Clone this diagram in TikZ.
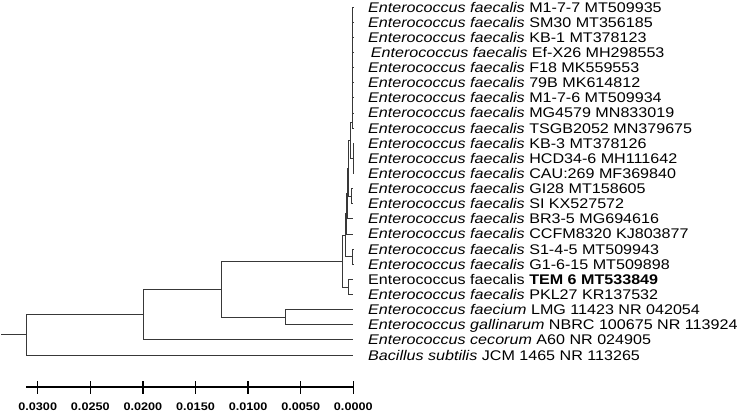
\documentclass[tikz,border=0pt]{standalone}
\usepackage{fontspec}
\setmainfont{Liberation Sans}
\tikzset{
  br/.style={draw=black!78, line width=0.8bp},
  lab/.style={anchor=base west, inner sep=0pt, font=\fontsize{14bp}{15bp}\selectfont},
  axl/.style={anchor=base, inner sep=0pt, font=\fontsize{11bp}{12bp}\selectfont\bfseries},
  axline/.style={draw=black, line width=1.7bp},
  tick/.style={draw=black, line width=1.3bp},
}
\newcommand\wide[1]{\scalebox{1.15}[1]{#1}}
\begin{document}
\begin{tikzpicture}[x=1bp,y=-1bp]
\useasboundingbox (0,0) rectangle (742,413);
% leaf tips
\foreach \i in {0,...,23} \coordinate (t\i) at (353.3,{7+15.13*\i});
% labels
\foreach \i/\dx/\t in {
 0/0/{\textit{Enterococcus faecalis} M1-7-7 MT509935},
 1/0/{\textit{Enterococcus faecalis} SM30 MT356185},
 2/0/{\textit{Enterococcus faecalis} KB-1 MT378123},
 3/2.7/{\textit{Enterococcus faecalis} Ef-X26 MH298553},
 4/0/{\textit{Enterococcus faecalis} F18 MK559553},
 5/0/{\textit{Enterococcus faecalis} 79B MK614812},
 6/0/{\textit{Enterococcus faecalis} M1-7-6 MT509934},
 7/0/{\textit{Enterococcus faecalis} MG4579 MN833019},
 8/0/{\textit{Enterococcus faecalis} TSGB2052 MN379675},
 9/0/{\textit{Enterococcus faecalis} KB-3 MT378126},
 10/0/{\textit{Enterococcus faecalis} HCD34-6 MH111642},
 11/0/{\textit{Enterococcus faecalis} CAU:269 MF369840},
 12/0/{\textit{Enterococcus faecalis} GI28 MT158605},
 13/0/{\textit{Enterococcus faecalis} SI KX527572},
 14/0/{\textit{Enterococcus faecalis} BR3-5 MG694616},
 15/0/{\textit{Enterococcus faecalis} CCFM8320 KJ803877},
 16/0/{\textit{Enterococcus faecalis} S1-4-5 MT509943},
 17/0/{\textit{Enterococcus faecalis} G1-6-15 MT509898},
 18/0/{Enterococcus faecalis \textbf{TEM 6 MT533849}},
 19/0/{\textit{Enterococcus faecalis} PKL27 KR137532},
 20/0/{\textit{Enterococcus faecium} LMG 11423 NR 042054},
 21/0/{\textit{Enterococcus gallinarum} NBRC 100675 NR 113924},
 22/0/{\textit{Enterococcus cecorum} A60 NR 024905},
 23/0/{\textit{Bacillus subtilis} JCM 1465 NR 113265}}
 \node[lab] (n\i) at ({368+\dx},{12+15.13*\i}) {\wide{\t}};
% internal nodes
\coordinate (G1) at (352.8,122);
\coordinate (G2) at (353,158.3);
\coordinate (B1) at (350,140);
\coordinate (P) at (351,196.2);
\coordinate (B2) at (348,168);
\coordinate (B3) at (347,193.4);
\coordinate (B4) at (346,213.7);
\coordinate (C) at (352.5,256.6);
\coordinate (A) at (345,235.2);
\coordinate (T) at (348,286.9);
\coordinate (F) at (342,261);
\coordinate (N3) at (285,317.2);
\coordinate (N2) at (221,289);
\coordinate (N1) at (143,314.4);
\coordinate (root) at (26,334.7);
\coordinate (stub) at (1,334.7);
% branches
\draw[br] (stub) -- (root);
\draw[br] (root) |- (N1);
\draw[br] (root) |- (t23);
\draw[br] (N1) |- (N2);
\draw[br] (N1) |- (t22);
\draw[br] (N2) |- (F);
\draw[br] (N2) |- (N3);
\draw[br] (N3) |- (t20);
\draw[br] (N3) |- (t21);
\draw[br] (F) |- (A);
\draw[br] (F) |- (T);
\draw[br] (T) |- (t18);
\draw[br] (T) |- (t19);
\draw[br] (A) |- (B4);
\draw[br] (A) |- (C);
\draw[br] (C) |- (t16);
\draw[br] (C) |- (t17);
\draw[br] (B4) |- (B3);
\draw[br] (B4) |- (t15);
\draw[br] (B3) |- (B2);
\draw[br] (B3) |- (t14);
\draw[br] (B2) |- (B1);
\draw[br] (B2) |- (P);
\draw[br] (P) |- (t12);
\draw[br] (P) |- (t13);
\draw[br] (B1) |- (G1);
\draw[br] (B1) |- (G2);
\foreach \i in {9,10,11} \draw[br] (G2) |- (t\i);
\foreach \i in {0,...,8} \draw[br] (G1) |- (t\i);
% scale axis
\coordinate (ax0) at (26,387);
\coordinate (ax1) at (353.3,387);
\draw[axline] (ax0) -- (ax1);
\foreach \k/\t in {0/0.0000,1/0.0050,2/0.0100,3/0.0150,4/0.0200,5/0.0250,6/0.0300}{
  \coordinate (tk\k) at ({353.3-52.6*\k},387);
  \draw[tick] ([yshift=-6.5bp]tk\k) -- ([yshift=6.5bp]tk\k);
  \node[axl] (al\k) at ({353.3-52.6*\k},410.5) {\wide{\t}};
}
\end{tikzpicture}
\end{document}
